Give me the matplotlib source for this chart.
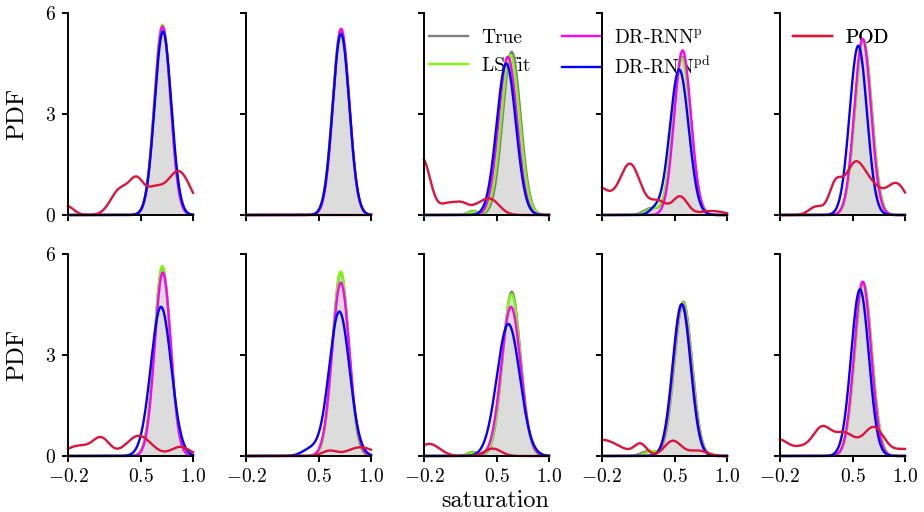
"""
PDF of saturation at two time levels for five sample points,
comparing the true field with the reduced-order predictions.
"""
import numpy as np
import matplotlib
matplotlib.use("Agg")
from matplotlib import pyplot as plt
from matplotlib.lines import Line2D

plt.rcParams["font.family"] = "serif"
plt.rcParams["font.serif"] = ["cmr10"]
plt.rcParams["mathtext.fontset"] = "cm"
plt.rcParams["axes.formatter.use_mathtext"] = True

LINE_WIDTH = 1.7

# Axes and ticks
x_limits = (-0.2, 1.0)
y_limits = (0, 6)
x_ticks = [-0.2, 0.5, 1.0]
y_ticks = [0, 3, 6]

labels = ["True", "LS fit", r"DR-RNN$^{\mathrm{p}}$", r"DR-RNN$^{\mathrm{pd}}$", "POD"]
colors = ["grey", "lawngreen", "magenta", "blue", "crimson"]
fill_color = "#dcdcdc"

# Density peaks per panel (row by row): (centre, height, width)
true_peaks = [
    [(0.708, 5.60, 0.078)],
    [(0.712, 5.50, 0.079)],
    [(0.642, 4.85, 0.086), (0.27, 0.12, 0.05)],
    [(0.570, 4.70, 0.084), (0.27, 0.20, 0.07)],
    [(0.600, 5.20, 0.081)],
    [(0.706, 5.60, 0.078)],
    [(0.709, 5.45, 0.079)],
    [(0.642, 4.88, 0.086), (0.267, 0.12, 0.05)],
    [(0.581, 4.58, 0.085), (0.25, 0.15, 0.07)],
    [(0.600, 5.15, 0.082)],
]
ls_fit_peaks = [
    [(0.706, 5.65, 0.077)],
    [(0.710, 5.50, 0.079)],
    [(0.630, 4.75, 0.088), (0.27, 0.10, 0.05)],
    [(0.565, 4.66, 0.085), (0.28, 0.18, 0.06)],
    [(0.602, 5.20, 0.081)],
    [(0.706, 5.64, 0.077)],
    [(0.709, 5.48, 0.078)],
    [(0.640, 4.80, 0.087), (0.27, 0.10, 0.05)],
    [(0.578, 4.55, 0.086), (0.27, 0.13, 0.06)],
    [(0.602, 5.15, 0.082)],
]
rnn_p_peaks = [
    [(0.708, 5.60, 0.077)],
    [(0.714, 5.53, 0.078)],
    [(0.605, 4.70, 0.088)],
    [(0.574, 4.89, 0.080)],
    [(0.594, 5.23, 0.080)],
    [(0.710, 5.45, 0.077)],
    [(0.710, 5.15, 0.083)],
    [(0.635, 4.43, 0.093)],
    [(0.570, 4.50, 0.086)],
    [(0.594, 5.18, 0.081)],
]
rnn_pd_peaks = [
    [(0.712, 5.45, 0.080)],
    [(0.712, 5.38, 0.080)],
    [(0.590, 4.50, 0.092)],
    [(0.542, 4.32, 0.090), (0.30, 0.15, 0.05)],
    [(0.552, 5.03, 0.083)],
    [(0.693, 4.43, 0.098)],
    [(0.696, 4.29, 0.098), (0.42, 0.20, 0.08)],
    [(0.610, 3.92, 0.110)],
    [(0.565, 4.51, 0.086)],
    [(0.568, 4.95, 0.085)],
]
pod_peaks = [
    [(-0.22, 0.28, 0.07), (0.30, 0.75, 0.09), (0.46, 0.90, 0.07), (0.62, 0.62, 0.08), (0.86, 1.30, 0.12)],
    [],
    [(-0.22, 1.70, 0.08), (0.02, 0.30, 0.07), (0.16, 0.34, 0.07), (0.30, 0.12, 0.06), (0.43, 0.48, 0.09)],
    [(-0.25, 0.85, 0.12), (0.07, 1.50, 0.10), (0.34, 0.40, 0.08), (0.55, 0.54, 0.07), (0.85, 0.12, 0.12)],
    [(0.15, 0.25, 0.07), (0.33, 0.80, 0.06), (0.52, 1.50, 0.10), (0.70, 0.60, 0.09), (0.92, 0.92, 0.10)],
    [(-0.10, 0.30, 0.12), (0.12, 0.50, 0.08), (0.48, 0.60, 0.12), (0.88, 0.27, 0.09)],
    [(0.60, 0.15, 0.07), (0.90, 0.26, 0.12)],
    [(-0.15, 0.36, 0.10), (0.46, 0.22, 0.08)],
    [(-0.20, 0.48, 0.17), (0.17, 0.33, 0.06), (0.48, 0.45, 0.08), (0.72, 0.16, 0.09)],
    [(-0.22, 0.50, 0.10), (0.00, 0.20, 0.08), (0.20, 0.82, 0.09), (0.42, 0.65, 0.10), (0.70, 0.85, 0.10), (1.00, 0.20, 0.10)],
]


def density(x, peaks):
    y = np.zeros_like(x)
    for centre, height, width in peaks:
        y += height * np.exp(-0.5 * ((x - centre) / width) ** 2)
    return y


def style_axes(ax, show_x, show_y):
    ax.set_facecolor("none")
    ax.set_xlim(*x_limits)
    ax.set_ylim(*y_limits)
    ax.set_xticks(x_ticks)
    ax.set_yticks(y_ticks)
    for side in ("top", "right"):
        ax.spines[side].set_visible(False)
    for side in ("left", "bottom"):
        ax.spines[side].set_linewidth(1.4)
    ax.tick_params(width=1.4, length=4.5, pad=4, labelsize=14)
    if not show_x:
        ax.tick_params(labelbottom=False)
    if not show_y:
        ax.tick_params(labelleft=False)


fig, axes = plt.subplots(2, 5, figsize=(9.24, 5.12), dpi=100)
fig.subplots_adjust(left=0.0736, right=0.9794, bottom=0.1094, top=0.9746, wspace=0.424, hspace=0.193)

x = np.linspace(x_limits[0], x_limits[1], 600)
all_peaks = [true_peaks, ls_fit_peaks, rnn_p_peaks, rnn_pd_peaks, pod_peaks]

for k, ax in enumerate(axes.flat):
    row, col = divmod(k, 5)
    style_axes(ax, show_x=(row == 1), show_y=(col == 0))
    y_true = density(x, true_peaks[k])
    ax.fill_between(x, 0, y_true, color=fill_color, lw=0)
    for peaks, color in zip(all_peaks, colors):
        ax.plot(x, density(x, peaks[k]), color=color, linewidth=LINE_WIDTH, clip_on=False)

# Legend groups sit behind the curves of the later panels
handles = [Line2D([0], [0], color=c, linewidth=LINE_WIDTH) for c in colors]
groups = [(slice(0, 2), 429), (slice(2, 4), 562), (slice(4, 5), 793)]
leg_ax = axes[0, 0]
for sl, px in groups:
    leg = leg_ax.legend(handles[sl], labels[sl], loc="upper left",
                        bbox_to_anchor=(px / 924, 1 - 29 / 512), bbox_transform=fig.transFigure,
                        frameon=False, fontsize=14, borderpad=0, borderaxespad=0,
                        handlelength=2.0, handletextpad=0.7, labelspacing=0.5)
    leg_ax.add_artist(leg)

fig.text(17 / 924, 1 - 114 / 512, "PDF", rotation=90, ha="center", va="center", fontsize=18)
fig.text(17 / 924, 1 - 355 / 512, "PDF", rotation=90, ha="center", va="center", fontsize=18)
fig.text(495 / 924, 1 - 501 / 512, "saturation", ha="center", va="center", fontsize=17.5)

fig.savefig("out.png", dpi=100)
